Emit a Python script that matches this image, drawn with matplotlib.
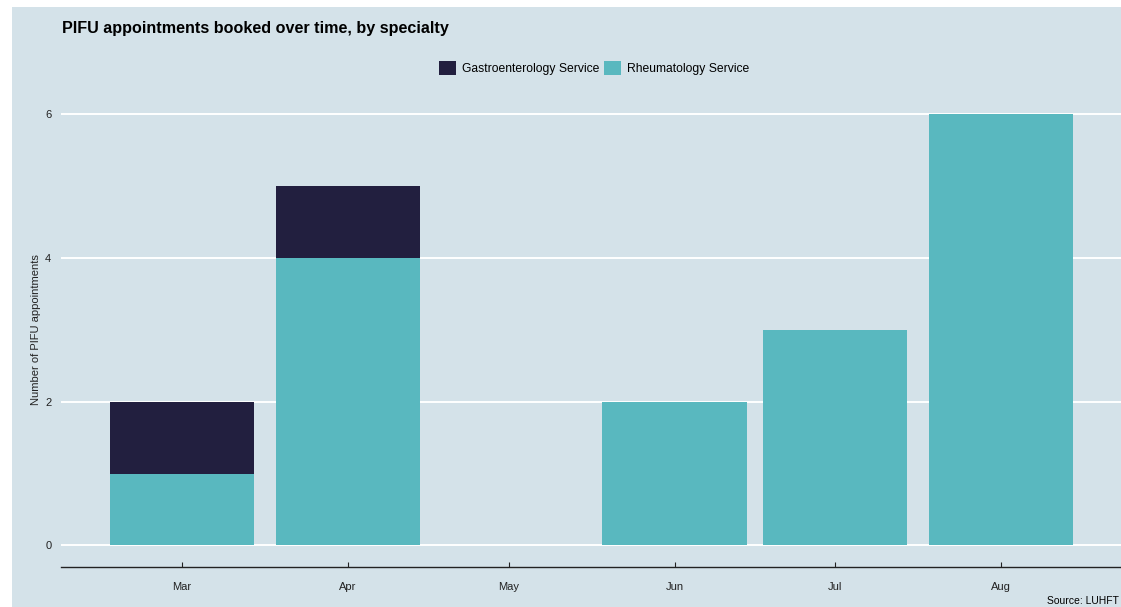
import pandas as pd
import matplotlib.pyplot as plt
from matplotlib.patches import Rectangle

plt.rcParams['font.family'] = ['Liberation Sans', 'DejaVu Sans']

# dados
months = pd.to_datetime(['2023-03-01', '2023-04-01', '2023-05-01',
                         '2023-06-01', '2023-07-01', '2023-08-01'])
month_labels = ['Mar', 'Apr', 'May', 'Jun', 'Jul', 'Aug']
rheumatology = [1, 4, 0, 2, 3, 6]
gastro = [1, 1, 0, 0, 0, 0]
y_ticks = [0, 2, 4, 6]

BG = '#d4e2e9'
TEAL = '#59b8bf'
NAVY = '#221f3f'

fig = plt.figure(figsize=(11.21, 6.07), dpi=100)
fig.patch.set_facecolor('white')
# painel azul claro (com margem branca a esquerda e em cima)
fig.patches.append(Rectangle((12 / 1121, 0), 1 - 12 / 1121, 1 - 7 / 607,
                             transform=fig.transFigure, facecolor=BG,
                             edgecolor='none', zorder=-10))

ax = fig.add_axes([61 / 1121, 40 / 607, 1 - 61 / 1121, (567 - 92.4) / 607])
ax.set_facecolor(BG)

width = 27  # dias
rb = ax.bar(months, rheumatology, width=width, color=TEAL, zorder=3,
            label='Rheumatology Service')
gb = ax.bar(months, gastro, width=width, bottom=rheumatology, color=NAVY,
            zorder=3, label='Gastroenterology Service')

start = months[0]
ax.set_xlim(start - pd.Timedelta(days=22.6), start + pd.Timedelta(days=175.4))
ax.set_ylim(-0.3, 6.3)

ax.set_xticks(months)
ax.set_xticklabels(month_labels)
ax.set_yticks(y_ticks)
ax.grid(axis='y', color='white', linewidth=1.4, zorder=1)
ax.grid(axis='x', visible=False)

for side in ['top', 'right', 'left']:
    ax.spines[side].set_visible(False)
ax.spines['bottom'].set_color('#222222')
ax.spines['bottom'].set_linewidth(1.0)

ax.tick_params(axis='x', direction='in', length=3.5, width=0.8,
               color='#222222', pad=11, labelsize=8, labelcolor='#222222')
ax.tick_params(axis='y', length=0, pad=7, labelsize=8, labelcolor='#222222')

ax.set_ylabel('Number of PIFU appointments', fontsize=8, color='#222222',
              labelpad=3)

fig.text(62 / 1121, 1 - 28 / 607, 'PIFU appointments booked over time, by specialty',
         fontsize=11.6, fontweight='bold', va='center', ha='left', color='black')

fig.legend(handles=[gb, rb], labels=['Gastroenterology Service', 'Rheumatology Service'],
           loc='center', bbox_to_anchor=(594 / 1121, 1 - 68 / 607), ncol=2,
           frameon=False, fontsize=8.7, handlelength=1.4, handleheight=1.4,
           handletextpad=0.5, columnspacing=0.4)

fig.text(1119 / 1121, 1 - 601 / 607, 'Source: LUHFT', fontsize=7.5,
         ha='right', va='center', color='black')

fig.savefig('out.png', dpi=100)
